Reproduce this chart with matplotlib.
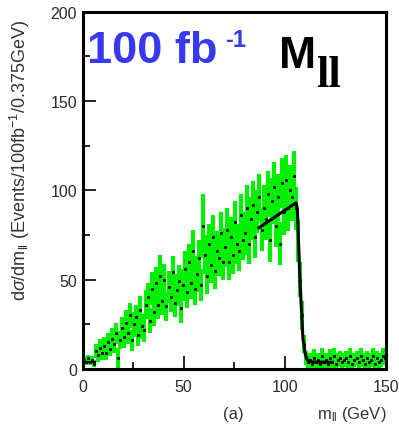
import numpy as np
import matplotlib
matplotlib.use("Agg")
import matplotlib.pyplot as plt
from matplotlib.ticker import MultipleLocator

plt.rcParams['font.family'] = ['Liberation Sans', 'DejaVu Sans']
plt.rcParams['mathtext.fontset'] = 'custom'
plt.rcParams['mathtext.rm'] = 'Liberation Sans'
plt.rcParams['mathtext.it'] = 'Liberation Sans:italic'
plt.rcParams['mathtext.bf'] = 'Liberation Sans:bold'

# histogram, 1 GeV bins (bin centres)
m_ll = np.arange(0.5, 150.0, 1.0)

counts = [
    5, 4, 6, 4, 5, 3, 10, 8, 12, 9,
    13, 9, 15, 11, 17, 14, 20, 6, 16, 23,
    18, 26, 20, 30, 16, 25, 29, 19, 33, 24,
    22, 36, 40, 27, 45, 32, 48, 36, 52, 38,
    50, 35, 46, 40, 54, 37, 44, 49, 34, 47,
    56, 43, 60, 48, 66, 45, 53, 62, 47, 80,
    64, 52, 70, 58, 74, 55, 66, 62, 76, 60,
    68, 78, 60, 74, 64, 82, 70, 66, 86, 72,
    76, 90, 70, 84, 92, 74, 88, 96, 78, 90,
    84, 98, 72, 94, 102, 80, 96, 70, 104, 88,
    106, 90, 100, 96, 108, 90, 72, 50, 30, 14,
    6, 4, 5, 3, 6, 4, 5, 3, 7, 4,
    5, 3, 6, 4, 7, 3, 5, 6, 4, 5,
    6, 4, 7, 3, 5, 6, 4, 7, 5, 3,
    6, 4, 5, 7, 3, 6, 4, 5, 7, 6,
]

errors = [
    2, 2, 2, 2, 2, 2, 4, 4, 5, 4,
    5, 4, 5, 4, 6, 5, 6, 6, 5, 6,
    6, 7, 6, 7, 6, 7, 7, 6, 8, 7,
    7, 8, 8, 7, 9, 8, 9, 8, 12, 8,
    9, 8, 9, 8, 9, 8, 9, 9, 8, 9,
    10, 9, 10, 9, 12, 9, 10, 10, 9, 18,
    11, 10, 11, 10, 12, 10, 11, 10, 12, 10,
    11, 12, 10, 11, 11, 12, 11, 11, 12, 11,
    12, 13, 11, 12, 13, 12, 12, 13, 12, 13,
    12, 13, 12, 13, 14, 12, 13, 12, 14, 13,
    14, 13, 14, 13, 14, 12, 12, 10, 8, 5,
    4, 4, 4, 3, 5, 4, 4, 3, 5, 4,
    4, 3, 5, 4, 5, 3, 4, 4, 4, 4,
    4, 4, 5, 3, 4, 4, 4, 5, 4, 3,
    4, 4, 4, 5, 3, 4, 4, 4, 5, 4,
]

# fitted edge
fit_m = [87.2, 105.6, 106.2, 107.5, 109.0, 110.2, 111.2, 112.5, 123.6]
fit_v = [79, 93, 90, 50, 17, 8, 5, 4, 3.7]
low_m = [0.3, 6.0]
low_v = [3.8, 3.8]

fig = plt.figure(figsize=(3.99, 4.27), dpi=100)
ax = fig.add_axes([0.207, 0.1335, 0.760, 0.8372])

ax.errorbar(m_ll, counts, yerr=errors, xerr=0.5, fmt='none',
            ecolor='#00f000', elinewidth=3.0, capsize=0, zorder=2)
ax.plot(m_ll, counts, ls='none', marker='s', ms=1.1, color='black', zorder=3)
ax.plot(fit_m, fit_v, color='black', lw=2.2, zorder=4)
ax.plot(low_m, low_v, color='black', lw=1.5, zorder=4)

ax.set_xlim(0, 150)
ax.set_ylim(0, 200)
ax.xaxis.set_major_locator(MultipleLocator(50))
ax.xaxis.set_minor_locator(MultipleLocator(25))
ax.yaxis.set_major_locator(MultipleLocator(50))
ax.yaxis.set_minor_locator(MultipleLocator(25))
ax.tick_params(which='both', direction='in', top=False, right=False,
               colors='black', labelcolor='#2a2a2a', labelsize=11.5)
ax.tick_params(axis='y', which='major', length=9.5, width=1.2, pad=4)
ax.tick_params(axis='y', which='minor', length=5, width=1.2)
ax.tick_params(axis='x', which='major', length=9.5, width=1.2, pad=7)
ax.tick_params(axis='x', which='minor', length=5, width=1.2)
for s in ax.spines.values():
    s.set_linewidth(2.2)

ax.set_ylabel(r'd$\sigma$/dm$_{\mathrm{ll}}$ (Events/100fb$^{-1}$/0.375GeV)',
              fontsize=13, color='#333333', va='center')
ax.yaxis.set_label_coords(-0.205, 0.587)

fig.text(233 / 399, 1 - 415 / 427, '(a)', fontsize=12, color='#333333',
         ha='center', va='center')
fig.text(317 / 399, 1 - 415 / 427, r'm$_{\mathrm{ll}}$ (GeV)', fontsize=12,
         color='#333333', ha='left', va='center')

fig.text(87 / 399, 1 - 63 / 427, '100 fb', fontsize=32.5, fontweight='bold',
         color='#3838f0', ha='left', va='baseline')
fig.text(225 / 399, 1 - 47 / 427, '-1', fontsize=17, fontweight='bold',
         color='#3838f0', ha='left', va='baseline')
fig.text(279 / 399, 1 - 68 / 427, 'M', fontsize=32, fontweight='bold',
         color='black', ha='left', va='baseline')
fig.text(316 / 399, 1 - 87 / 427, 'll', fontsize=32, fontweight='bold',
         family='Liberation Serif', color='black', ha='left', va='baseline')

fig.savefig('out.png', dpi=100)
